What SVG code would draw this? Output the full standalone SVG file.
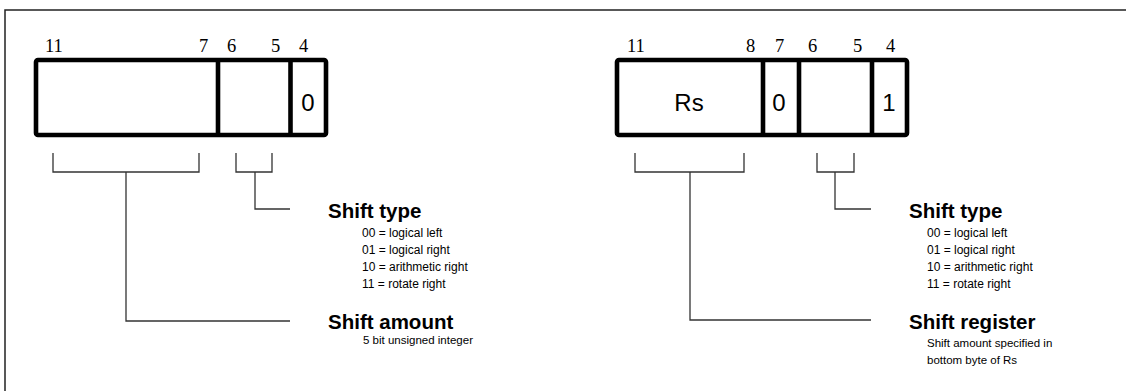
<svg xmlns="http://www.w3.org/2000/svg" width="1126" height="391" viewBox="0 0 1126 391">
<style>
.frame{fill:none;stroke:#222;stroke-width:1.5}
.box{fill:#fff;stroke:#000;stroke-width:4.6;stroke-linejoin:round}
.div{stroke:#000;stroke-width:4.6}
.bit{font-family:"Liberation Serif",serif;font-size:18.5px;fill:#000}
.val{font-family:"Liberation Sans",Arial,sans-serif;font-size:24px;fill:#000;text-anchor:middle}
.conn{fill:none;stroke:#333;stroke-width:1.3}
.title{font-family:"Liberation Sans",Arial,sans-serif;font-size:20.5px;font-weight:bold;fill:#000}
.sub{font-family:"Liberation Sans",Arial,sans-serif;font-size:12px;fill:#000}
.desc{font-family:"Liberation Sans",Arial,sans-serif;font-size:11.5px;fill:#000}
</style>
<g id="frame">
<path class="frame" d="M5,391 V10 H1126"/>
</g>
<g id="left-format">
<text class="bit" x="45" y="52">11</text>
<text class="bit" x="199" y="52">7</text>
<text class="bit" x="227" y="52">6</text>
<text class="bit" x="271" y="52">5</text>
<text class="bit" x="299" y="52">4</text>
<rect class="box" x="36" y="60" width="290" height="75" rx="2"/>
<line class="div" x1="218" y1="60" x2="218" y2="135"/>
<line class="div" x1="290.5" y1="60" x2="290.5" y2="135"/>
<text class="val" x="308" y="111">0</text>
</g>
<g id="right-format">
<text class="bit" x="627" y="52">11</text>
<text class="bit" x="746" y="52">8</text>
<text class="bit" x="775" y="52">7</text>
<text class="bit" x="808" y="52">6</text>
<text class="bit" x="853" y="52">5</text>
<text class="bit" x="886" y="52">4</text>
<rect class="box" x="617" y="60" width="290" height="75" rx="2"/>
<line class="div" x1="763" y1="60" x2="763" y2="135"/>
<line class="div" x1="799" y1="60" x2="799" y2="135"/>
<line class="div" x1="872" y1="60" x2="872" y2="135"/>
<text class="val" x="689" y="111">Rs</text>
<text class="val" x="779" y="111">0</text>
<text class="val" x="889" y="111">1</text>
</g>
<g id="connectors">
<path class="conn" d="M53,153 V172 H199 V153 M126,172 V321 H290"/>
<path class="conn" d="M236,153 V172 H272 V153 M255,172 V209 H290"/>
<path class="conn" d="M635,153 V172 H744 V153 M690,172 V320 H871"/>
<path class="conn" d="M817,153 V172 H854 V153 M835,172 V209 H871"/>
</g>
<g id="left-shift-type">
<text class="title" x="328" y="218">Shift type</text>
<text class="sub" x="362" y="237">00 = logical left</text>
<text class="sub" x="362" y="254">01 = logical right</text>
<text class="sub" x="362" y="271">10 = arithmetic right</text>
<text class="sub" x="362" y="288">11 = rotate right</text>
</g>
<g id="left-shift-amount">
<text class="title" x="328" y="329">Shift amount</text>
<text class="desc" x="363" y="344">5 bit unsigned integer</text>
</g>
<g id="right-shift-type">
<text class="title" x="909" y="218">Shift type</text>
<text class="sub" x="927" y="237">00 = logical left</text>
<text class="sub" x="927" y="254">01 = logical right</text>
<text class="sub" x="927" y="271">10 = arithmetic right</text>
<text class="sub" x="927" y="288">11 = rotate right</text>
</g>
<g id="right-shift-register">
<text class="title" x="909" y="329">Shift register</text>
<text class="desc" x="927" y="347">Shift amount specified in</text>
<text class="desc" x="927" y="364">bottom byte of Rs</text>
</g>
</svg>
